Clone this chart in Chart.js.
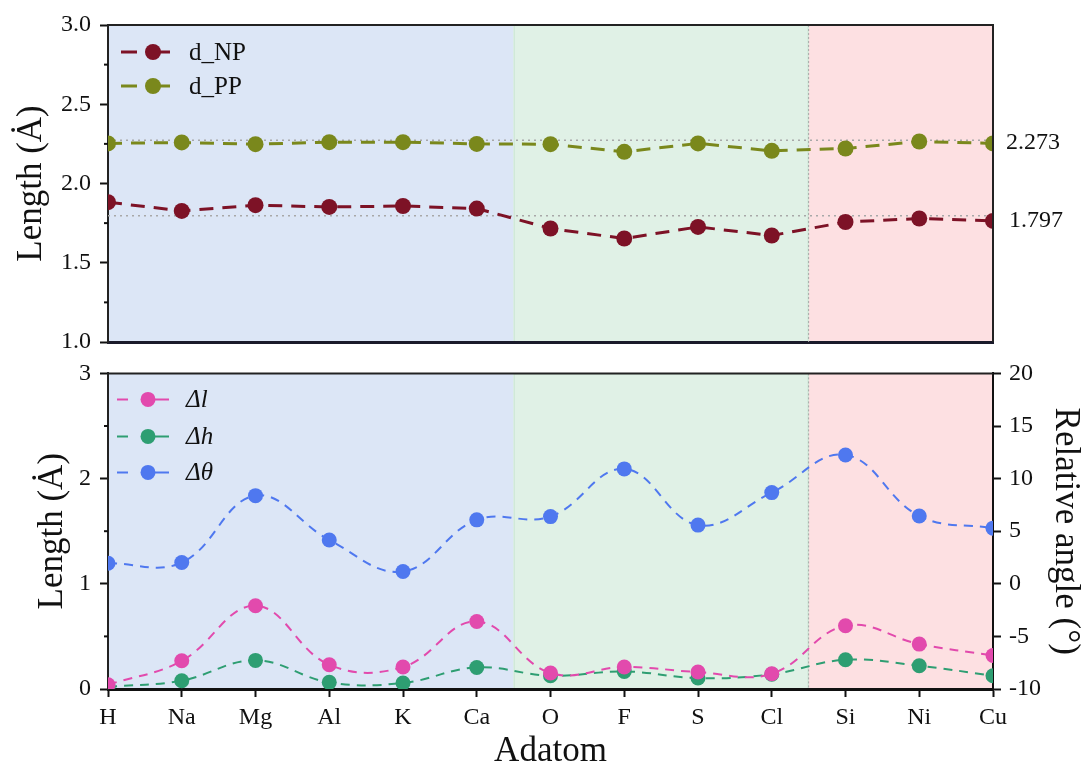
<!DOCTYPE html>
<html lang="en">
<head>
    <meta charset="UTF-8">
    <title>Adatom bond lengths</title>
    <script src="https://cdn.jsdelivr.net/npm/chart.js"></script>
    <style>
        html, body { margin: 0; padding: 0; background: #ffffff; }
        #wrap { position: relative; width: 1088px; height: 769px; }
        #topChart { position: absolute; left: 0; top: 0; }
        #bottomChart { position: absolute; left: 0; top: 350px; }
    </style>
</head>
<body>
<div id="wrap">
    <canvas id="topChart" width="1088" height="380"></canvas>
    <canvas id="bottomChart" width="1088" height="419"></canvas>
</div>
<script>
    // categories
    const adatoms = ['H', 'Na', 'Mg', 'Al', 'K', 'Ca', 'O', 'F', 'S', 'Cl', 'Si', 'Ni', 'Cu'];

    // top panel (Å)
    const dNP = [1.882, 1.827, 1.863, 1.852, 1.858, 1.842, 1.716, 1.653, 1.726, 1.672, 1.757, 1.779, 1.764];
    const dPP = [2.253, 2.259, 2.248, 2.261, 2.261, 2.250, 2.248, 2.200, 2.253, 2.206, 2.221, 2.265, 2.253];
    const refValues = [2.273, 1.797];

    // bottom panel: lengths (Å) and angle (deg)
    const deltaL = [0.04, 0.268, 0.791, 0.231, 0.209, 0.642, 0.152, 0.209, 0.161, 0.145, 0.601, 0.427, 0.319];
    const deltaH = [0.02, 0.079, 0.272, 0.063, 0.057, 0.205, 0.126, 0.167, 0.104, 0.14, 0.278, 0.221, 0.126];
    const deltaTheta = [1.96, 2.02, 8.38, 4.17, 1.17, 6.08, 6.39, 10.92, 5.58, 8.67, 12.25, 6.45, 5.29];

    // group boundaries (between Ca|O and Cl|Si)
    const groupEdges = [5.5, 9.5];
    const groupColors = ['#dce6f6', '#e0f1e6', '#fde0e2'];

    Chart.defaults.font.family = "'Liberation Serif', 'Times New Roman', serif";
    Chart.defaults.color = '#111111';

    const fixWidth = w => scale => { scale.width = w; };
    const fixHeight = h => scale => { scale.height = h; };

    // backgrounds, reference lines, frame, minor ticks and legend
    const decor = {
        id: 'decor',
        beforeDraw(chart) {
            const { ctx, chartArea: a, scales: { x } } = chart;
            const edges = [a.left, ...groupEdges.map(v => x.getPixelForValue(v)), a.right];
            ctx.save();
            groupColors.forEach((c, i) => {
                ctx.fillStyle = c;
                ctx.fillRect(edges[i], a.top, edges[i + 1] - edges[i], a.bottom - a.top);
            });
            ctx.strokeStyle = '#c6e4d0';
            ctx.lineWidth = 1;
            ctx.strokeRect(edges[1] + 0.5, a.top + 0.5, edges[2] - edges[1] - 1, a.bottom - a.top - 1);
            ctx.restore();
        },
        beforeDatasetsDraw(chart, args, opts) {
            const { ctx, chartArea: a, scales } = chart;
            ctx.save();
            ctx.strokeStyle = '#a8a8a8';
            ctx.lineWidth = 1.5;
            ctx.setLineDash([2, 4]);
            if (opts.refLines) {
                refValues.forEach(v => {
                    const py = scales.y.getPixelForValue(v);
                    ctx.beginPath();
                    ctx.moveTo(a.left, py);
                    ctx.lineTo(a.right, py);
                    ctx.stroke();
                });
            }
            const dx = scales.x.getPixelForValue(groupEdges[1]);
            ctx.lineWidth = 1;
            ctx.setLineDash([2, 2]);
            ctx.beginPath();
            ctx.moveTo(dx, a.top);
            ctx.lineTo(dx, a.bottom);
            ctx.stroke();
            ctx.restore();
            // clip markers at the plot edges (H and Cu are cut in half)
            ctx.save();
            ctx.beginPath();
            ctx.rect(a.left, a.top, a.right - a.left, a.bottom - a.top);
            ctx.clip();
        },
        afterDatasetsDraw(chart) {
            chart.ctx.restore();
        },
        afterDraw(chart, args, opts) {
            const { ctx, chartArea: a, scales } = chart;
            ctx.save();
            // frame
            ctx.strokeStyle = '#222222';
            ctx.lineWidth = 2;
            ctx.beginPath();
            ctx.moveTo(a.left, a.top);
            ctx.lineTo(a.right, a.top);
            if (opts.rightFrame) ctx.lineTo(a.right, a.bottom);
            ctx.stroke();

            // minor ticks on the left axis
            const ys = scales.y;
            ctx.strokeStyle = '#111111';
            ctx.lineWidth = 2;
            for (let i = 0; i < ys.ticks.length - 1; i++) {
                const py = ys.getPixelForValue((ys.ticks[i].value + ys.ticks[i + 1].value) / 2);
                ctx.beginPath();
                ctx.moveTo(a.left - 4, py);
                ctx.lineTo(a.left, py);
                ctx.stroke();
            }

            // value labels of the reference lines
            if (opts.refLines) {
                ctx.fillStyle = '#111111';
                ctx.font = "24px 'Liberation Serif'";
                ctx.textAlign = 'left';
                ctx.textBaseline = 'middle';
                ctx.fillText(refValues[0].toFixed(3), a.right + 13, ys.getPixelForValue(refValues[0]) + 2);
                ctx.fillText(refValues[1].toFixed(3), a.right + 16, ys.getPixelForValue(refValues[1]) + 5);
            }

            // legend
            const lg = opts.legend;
            chart.data.datasets.forEach((ds, i) => {
                const py = a.top + lg.rows[i];
                const x0 = a.left + lg.x0, cx = a.left + lg.cx, x1 = a.left + lg.x1;
                ctx.strokeStyle = ds.borderColor;
                ctx.lineWidth = ds.borderWidth;
                ctx.setLineDash([]);
                ctx.beginPath();
                ctx.moveTo(x0, py);
                ctx.lineTo(x0 + lg.seg, py);
                ctx.moveTo(cx, py);
                ctx.lineTo(x1, py);
                ctx.stroke();
                ctx.fillStyle = ds.pointBackgroundColor;
                ctx.beginPath();
                ctx.arc(cx, py, ds.pointRadius, 0, Math.PI * 2);
                ctx.fill();
                ctx.fillStyle = '#111111';
                ctx.font = (lg.italic ? 'italic ' : '') + "25px 'Liberation Serif'";
                ctx.textAlign = 'left';
                ctx.textBaseline = 'middle';
                ctx.fillText(ds.label, a.left + lg.tx, py + 1);
            });
            ctx.restore();
        }
    };

    const tickGrid = {
        drawOnChartArea: false,
        tickLength: 8,
        tickColor: '#111111',
        tickWidth: 2
    };

    // top panel
    new Chart(document.getElementById('topChart'), {
        type: 'line',
        data: {
            labels: adatoms,
            datasets: [
                {
                    label: 'd_NP', data: dNP,
                    borderColor: '#7d1226', pointBackgroundColor: '#7d1226', pointBorderColor: '#7d1226',
                    borderWidth: 3, borderDash: [14, 9], pointRadius: 8, pointBorderWidth: 0,
                    tension: 0
                },
                {
                    label: 'd_PP', data: dPP,
                    borderColor: '#7a881c', pointBackgroundColor: '#7a881c', pointBorderColor: '#7a881c',
                    borderWidth: 3, borderDash: [14, 9], pointRadius: 8, pointBorderWidth: 0,
                    tension: 0
                }
            ]
        },
        options: {
            responsive: false,
            animation: false,
            devicePixelRatio: 1,
            layout: { autoPadding: false, padding: { top: 25, right: 95, left: 0, bottom: 0 } },
            scales: {
                x: {
                    ticks: { display: false },
                    grid: { display: true, drawOnChartArea: false, drawTicks: false },
                    border: { display: true, color: '#1a1a2a', width: 3 },
                    afterFit: fixHeight(38)
                },
                y: {
                    min: 1, max: 3,
                    ticks: { stepSize: 0.5, font: { size: 24 }, padding: 9, callback: v => v.toFixed(1) },
                    grid: tickGrid,
                    border: { color: '#222222', width: 2 },
                    title: { display: true, text: 'Length (Ȧ)', font: { size: 35 }, padding: { top: 11 } },
                    afterFit: fixWidth(108)
                }
            },
            plugins: {
                legend: { display: false },
                tooltip: { enabled: false },
                decor: {
                    refLines: true,
                    rightFrame: true,
                    legend: { x0: 13, seg: 16, cx: 45, x1: 62, tx: 81, rows: [27, 61], italic: false }
                }
            }
        },
        plugins: [decor]
    });

    // bottom panel
    new Chart(document.getElementById('bottomChart'), {
        type: 'line',
        data: {
            labels: adatoms,
            datasets: [
                {
                    label: 'Δl', data: deltaL, yAxisID: 'y',
                    borderColor: '#e24aad', pointBackgroundColor: '#e24aad', pointBorderColor: '#e24aad',
                    borderWidth: 2, borderDash: [9, 7], pointRadius: 7.5, pointBorderWidth: 0,
                    tension: 0.4
                },
                {
                    label: 'Δh', data: deltaH, yAxisID: 'y',
                    borderColor: '#2e9e72', pointBackgroundColor: '#2e9e72', pointBorderColor: '#2e9e72',
                    borderWidth: 2, borderDash: [9, 7], pointRadius: 7.5, pointBorderWidth: 0,
                    tension: 0.4
                },
                {
                    label: 'Δθ', data: deltaTheta, yAxisID: 'y2',
                    borderColor: '#4f78ef', pointBackgroundColor: '#4f78ef', pointBorderColor: '#4f78ef',
                    borderWidth: 2, borderDash: [9, 7], pointRadius: 7.5, pointBorderWidth: 0,
                    tension: 0.4
                }
            ]
        },
        options: {
            responsive: false,
            animation: false,
            devicePixelRatio: 1,
            layout: { autoPadding: false, padding: { top: 23, right: 0, left: 0, bottom: 0 } },
            scales: {
                x: {
                    ticks: { font: { size: 24 }, padding: 6, autoSkip: false, maxRotation: 0 },
                    grid: tickGrid,
                    border: { color: '#111111', width: 3 },
                    title: { display: true, text: 'Adatom', font: { size: 35, lineHeight: 1 }, padding: { top: 0, bottom: 0 } },
                    afterFit: fixHeight(80)
                },
                y: {
                    position: 'left',
                    min: 0, max: 3,
                    ticks: { stepSize: 1, font: { size: 24 }, padding: 9 },
                    grid: tickGrid,
                    border: { color: '#222222', width: 2 },
                    title: { display: true, text: 'Length (Ȧ)', font: { size: 35 }, padding: { top: 32 } },
                    afterFit: fixWidth(108)
                },
                y2: {
                    position: 'right',
                    min: -10, max: 20,
                    ticks: { stepSize: 5, font: { size: 24 }, padding: 8 },
                    grid: tickGrid,
                    border: { color: '#111111', width: 2 },
                    title: { display: true, text: 'Relative angle (°)', font: { size: 35 }, padding: { top: 2 } },
                    afterFit: fixWidth(95)
                }
            },
            plugins: {
                legend: { display: false },
                tooltip: { enabled: false },
                decor: {
                    refLines: false,
                    rightFrame: false,
                    legend: { x0: 9, seg: 11, cx: 40, x1: 61, tx: 78, rows: [26, 63, 99], italic: true }
                }
            }
        },
        plugins: [decor]
    });
</script>
</body>
</html>
